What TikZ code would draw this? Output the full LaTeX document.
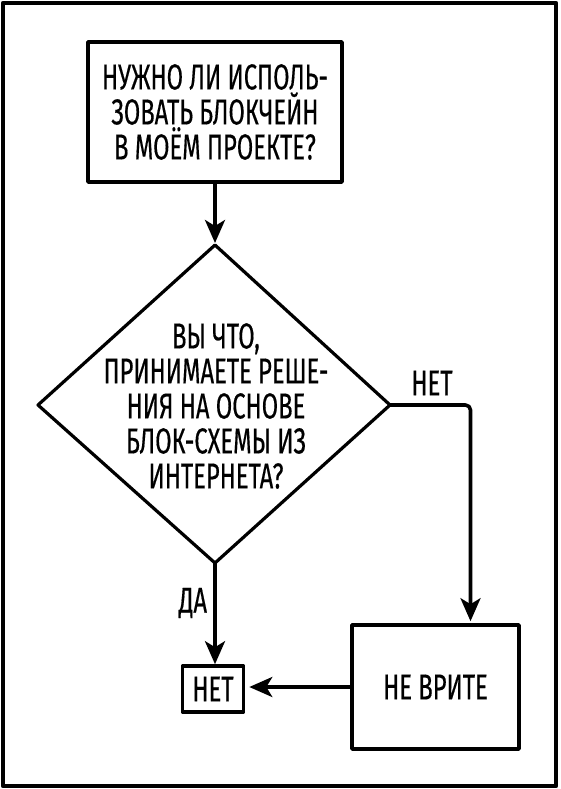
\documentclass[tikz,border=0pt]{standalone}
\usepackage{fontspec}
\setmainfont{Fira Sans}[FakeStretch=0.66,FakeBold=0.4]
\usetikzlibrary{arrows.meta}
\begin{document}
\begin{tikzpicture}[x=1pt,y=-1pt,line width=3.6pt,line cap=round,line join=round,
  every node/.style={font=\fontsize{36}{35}\selectfont,inner sep=0pt},
  box/.style={draw,align=center},
  arr/.style={-{Stealth[length=23pt,width=20pt,inset=6pt]}},
  lbl/.style={}]
\useasboundingbox (0,0) rectangle (560,789);
\draw[line width=4.6pt] (3,3) rectangle (556,786);
\node[box,minimum width=254pt,minimum height=140pt] (q1) at (215,112)
  {НУЖНО ЛИ ИСПОЛЬ-\\ЗОВАТЬ БЛОКЧЕЙН\\В МОЁМ ПРОЕКТЕ?};
\coordinate (dt) at (215,245);
\coordinate (dl) at (38,405);
\coordinate (dr) at (390,405);
\coordinate (db) at (215,563);
\draw[line width=3.2pt] (dt) -- (dr) -- (db) -- (dl) -- cycle;
\node[align=center] (dq) at (216,406)
  {ВЫ ЧТО,\\ПРИНИМАЕТЕ РЕШЕ-\\НИЯ НА ОСНОВЕ\\БЛОК-СХЕМЫ ИЗ\\ИНТЕРНЕТА?};
\node[box,minimum width=61pt,minimum height=46pt] (n) at (213,689) {НЕТ};
\node[box,minimum width=167pt,minimum height=124pt] (w) at (435.5,687) {НЕ ВРИТЕ};
\node[lbl] (lno) at (432,383) {НЕТ};
\node[lbl] (lyes) at (193,603) {ДА};
\draw[arr,shorten >=2pt] (q1.south) -- (dt);
\draw[arr] (db) -- (db |- n.north);
\draw[arr,rounded corners=5pt,shorten >=2pt] (dr) -| ([xshift=35pt]w.north);
\draw[arr,shorten >=4pt] (w.west) -- (w.west -| n.east);
\end{tikzpicture}
\end{document}
